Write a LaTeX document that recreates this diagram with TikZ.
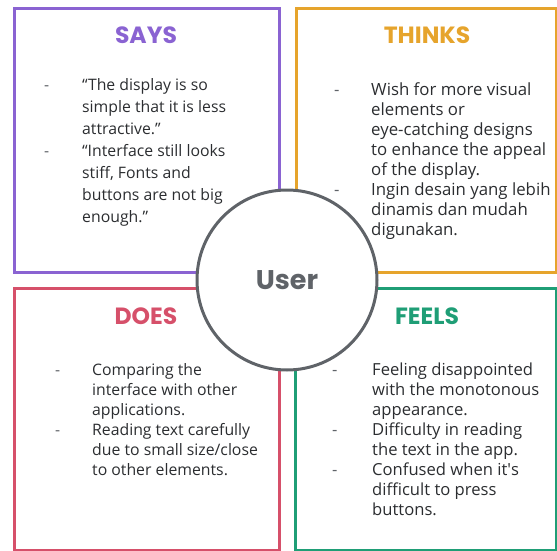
\documentclass[tikz,border=0pt]{standalone}
\usepackage{fontspec}
\setmainfont{Open Sans}
\newfontfamily\headfont{Poppins}
\usepackage{xcolor}

\definecolor{saysc}{HTML}{8A63D2}
\definecolor{thinksc}{HTML}{E6A42C}
\definecolor{doesc}{HTML}{D6506A}
\definecolor{feelsc}{HTML}{1F9E76}
\definecolor{ringc}{HTML}{5F6368}
\definecolor{ink}{HTML}{2B2D30}

% one column for the dash, one for the text lines
\newcommand{\quadlist}[2]{\begin{tabular}{@{}p{#1}@{}l@{}}#2\end{tabular}}
\newcommand{\dash}{\textcolor{ringc}{-}}

\begin{document}
\begin{tikzpicture}[x=1pt,y=-1pt,
  quad/.style={line width=3pt},
  head/.style={font=\headfont\bfseries\fontsize{23.5}{23.5}\selectfont},
  items/.style={anchor=north west,inner sep=0pt,text=ink,font=\fontsize{16.6}{20}\selectfont}]
\useasboundingbox (0,0) rectangle (557,551);

% the four quadrants
\draw [quad, saysc]   (14,9)   rectangle (279,272);
\draw [quad, thinksc] (296,9)  rectangle (556,272);
\draw [quad, doesc]   (14,288) rectangle (279,550);
\draw [quad, feelsc]  (295,288) rectangle (556,550);

\node [head, saysc]   (says)   at (146,35)  {SAYS};
\node [head, thinksc] (thinks) at (427,35)  {THINKS};
\node [head, doesc]   (does)   at (146,316) {DOES};
\node [head, feelsc]  (feels)  at (427,316) {FEELS};

\node [items, font=\fontsize{15.8}{22}\selectfont] (sayslist) at (44,75) {\quadlist{38pt}{%
\dash & “The display is so\\
      & simple that it is less\\
      & attractive.”\\
\dash & “Interface still looks\\
      & stiff, Fonts and\\
      & buttons are not big\\
      & enough.”}};

\node [items, font=\fontsize{16.8}{20}\selectfont] (thinkslist) at (334,81) {\quadlist{37pt}{%
\dash & Wish for more visual\\
      & elements or\\
      & eye-catching designs\\
      & to enhance the appeal\\
      & of the display.\\
\dash & Ingin desain yang lebih\\
      & dinamis dan mudah\\
      & digunakan.}};

\node [items, font=\fontsize{15.8}{20}\selectfont] (doeslist) at (55,361) {\quadlist{37pt}{%
\dash & Comparing the\\
      & interface with other\\
      & applications.\\
\dash & Reading text carefully\\
      & due to small size/close\\
      & to other elements.}};

\node [items] (feelslist) at (332,361) {\quadlist{40pt}{%
\dash & Feeling disappointed\\
      & with the monotonous\\
      & appearance.\\
\dash & Difficulty in reading\\
      & the text in the app.\\
\dash & Confused when it\textquotesingle s\\
      & difficult to press\\
      & buttons.}};

% the user in the middle
\node [circle, draw=ringc, line width=3pt, fill=white, minimum size=180pt,
       text=ringc, font=\headfont\bfseries\fontsize{27}{27}\selectfont] (user) at (287,280) {User};

\end{tikzpicture}
\end{document}
